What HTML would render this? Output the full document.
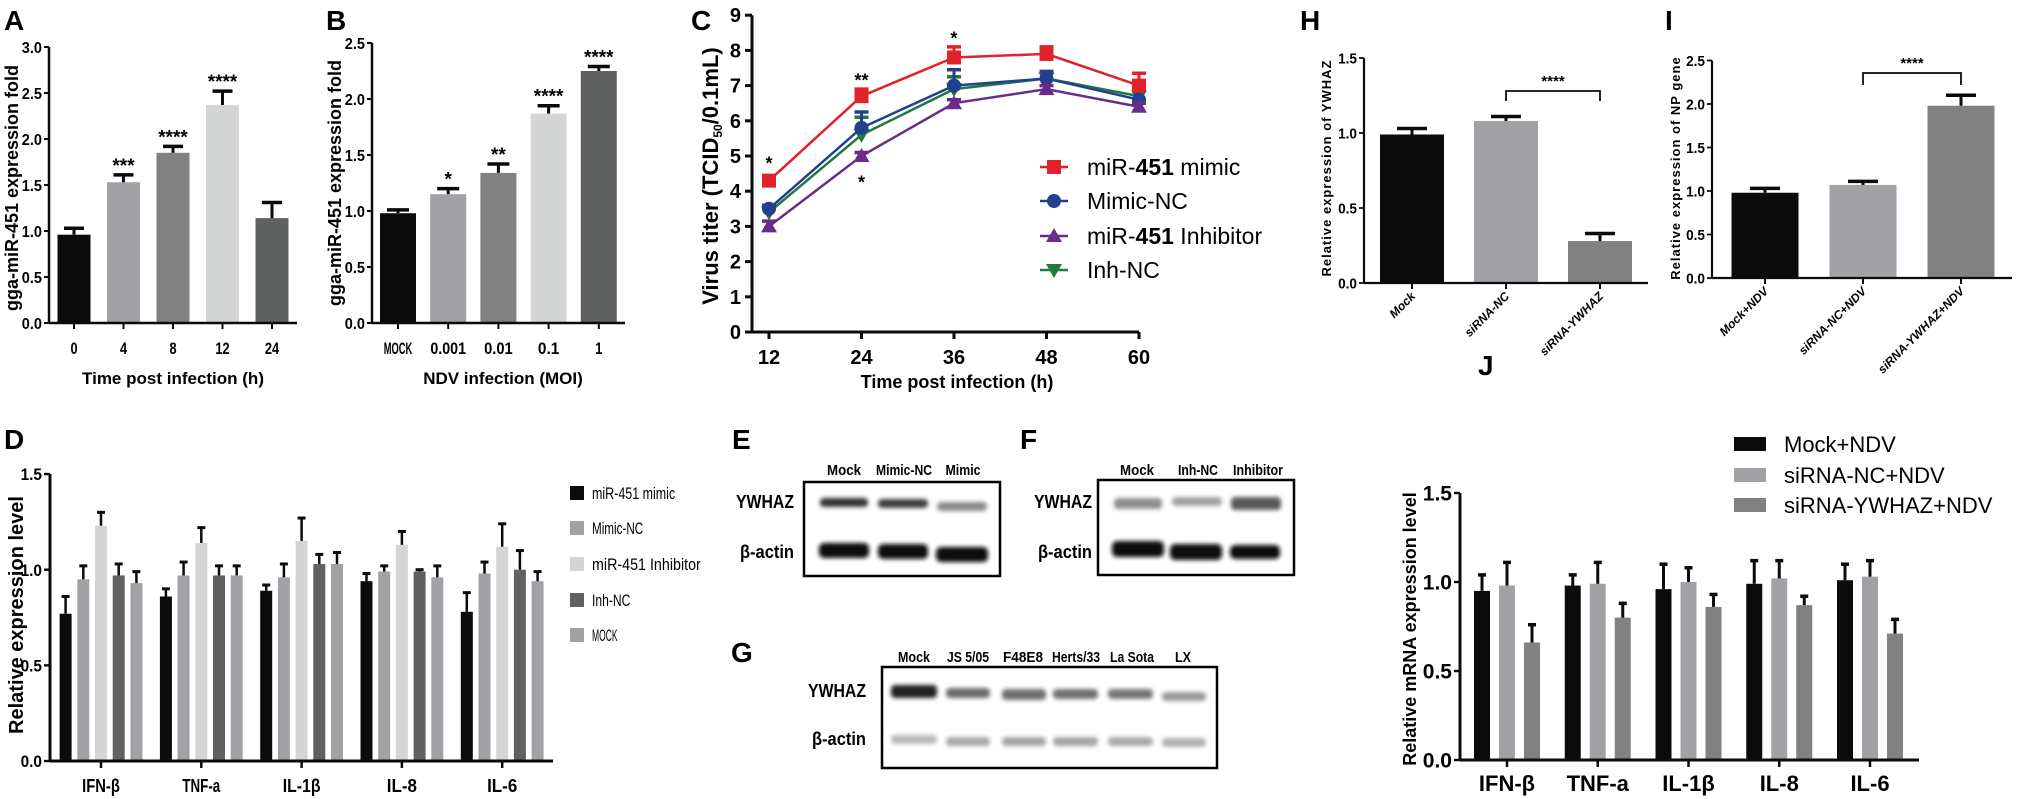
<!DOCTYPE html>
<html><head><meta charset="utf-8">
<style>
html,body{margin:0;padding:0;background:#fff;}
svg{display:block;font-family:"Liberation Sans",Arial,sans-serif;}
.nar{font-family:"Liberation Sans Narrow","Liberation Sans",sans-serif;font-weight:bold;}
.b{font-weight:bold;}
.lt{font-family:"Liberation Sans",sans-serif;font-weight:bold;font-size:28px;}
</style></head>
<body>
<svg id="fig" width="2021" height="799" viewBox="0 0 2021 799" xmlns="http://www.w3.org/2000/svg">
<defs>
<filter id="blur" x="-20%" y="-50%" width="140%" height="200%"><feGaussianBlur stdDeviation="2.2"/></filter>
</defs>
<text class="lt" x="4" y="30">A</text>
<text class="lt" x="326" y="30">B</text>
<text class="lt" x="691" y="30">C</text>
<text class="lt" x="4" y="449">D</text>
<text class="lt" x="732" y="449">E</text>
<text class="lt" x="1020" y="449">F</text>
<text class="lt" x="731" y="662">G</text>
<text class="lt" x="1300" y="30">H</text>
<text class="lt" x="1665" y="30">I</text>
<text class="lt" x="1478" y="375">J</text>

<g>
<g class="nar" font-size="15" text-anchor="middle" lengthAdjust="spacingAndGlyphs">
<text x="844" y="475" textLength="34" lengthAdjust="spacingAndGlyphs">Mock</text>
<text x="904" y="475" textLength="56" lengthAdjust="spacingAndGlyphs">Mimic-NC</text>
<text x="963" y="475" textLength="35" lengthAdjust="spacingAndGlyphs">Mimic</text>
</g>
<text class="nar" font-size="18" x="794" y="508" text-anchor="end" textLength="58" lengthAdjust="spacingAndGlyphs">YWHAZ</text>
<text class="nar" font-size="18" x="794" y="558" text-anchor="end" textLength="54" lengthAdjust="spacingAndGlyphs">β-actin</text>
<rect x="804" y="482" width="196" height="94" fill="#fff" stroke="#000" stroke-width="2.5"/>
<g filter="url(#blur)">
<rect x="820" y="498" width="48" height="9" rx="4" fill="#333"/>
<rect x="878" y="499" width="50" height="9" rx="4" fill="#3c3c3c"/>
<rect x="937" y="502" width="50" height="9" rx="4" fill="#8a8a8a"/>
<rect x="819" y="543" width="50" height="15" rx="5" fill="#080808"/>
<rect x="878" y="544" width="50" height="15" rx="5" fill="#0c0c0c"/>
<rect x="936" y="547" width="52" height="15" rx="5" fill="#0a0a0a"/>
</g>
</g>

<g>
<g class="nar" font-size="15" text-anchor="middle">
<text x="1137" y="475" textLength="34" lengthAdjust="spacingAndGlyphs">Mock</text>
<text x="1198" y="475" textLength="40" lengthAdjust="spacingAndGlyphs">Inh-NC</text>
<text x="1258" y="475" textLength="50" lengthAdjust="spacingAndGlyphs">Inhibitor</text>
</g>
<text class="nar" font-size="18" x="1092" y="508" text-anchor="end" textLength="58" lengthAdjust="spacingAndGlyphs">YWHAZ</text>
<text class="nar" font-size="18" x="1092" y="558" text-anchor="end" textLength="54" lengthAdjust="spacingAndGlyphs">β-actin</text>
<rect x="1098" y="480" width="196" height="95" fill="#fff" stroke="#000" stroke-width="2.5"/>
<g filter="url(#blur)">
<rect x="1114" y="498" width="48" height="11" rx="4" fill="#8e8e8e"/>
<rect x="1172" y="497" width="50" height="9" rx="4" fill="#a2a2a2"/>
<rect x="1231" y="497" width="50" height="13" rx="4" fill="#5a5a5a"/>
<rect x="1112" y="541" width="52" height="16" rx="5" fill="#080808"/>
<rect x="1170" y="544" width="52" height="16" rx="5" fill="#0a0a0a"/>
<rect x="1230" y="545" width="50" height="14" rx="5" fill="#0c0c0c"/>
</g>
</g>

<g>
<g class="nar" font-size="15" text-anchor="middle">
<text x="914" y="662" textLength="32" lengthAdjust="spacingAndGlyphs">Mock</text>
<text x="968" y="662" textLength="42" lengthAdjust="spacingAndGlyphs">JS 5/05</text>
<text x="1023" y="662" textLength="40" lengthAdjust="spacingAndGlyphs">F48E8</text>
<text x="1076" y="662" textLength="48" lengthAdjust="spacingAndGlyphs">Herts/33</text>
<text x="1132" y="662" textLength="44" lengthAdjust="spacingAndGlyphs">La Sota</text>
<text x="1183" y="662" textLength="16" lengthAdjust="spacingAndGlyphs">LX</text>
</g>
<text class="nar" font-size="18" x="866" y="697" text-anchor="end" textLength="58" lengthAdjust="spacingAndGlyphs">YWHAZ</text>
<text class="nar" font-size="18" x="866" y="745" text-anchor="end" textLength="54" lengthAdjust="spacingAndGlyphs">β-actin</text>
<rect x="882" y="667" width="335" height="101" fill="#fff" stroke="#000" stroke-width="2.5"/>
<g filter="url(#blur)">
<rect x="891" y="685" width="46" height="13" rx="4" fill="#222"/>
<rect x="946" y="688" width="44" height="10" rx="4" fill="#6a6a6a"/>
<rect x="1002" y="689" width="44" height="11" rx="4" fill="#6e6e6e"/>
<rect x="1053" y="689" width="45" height="10" rx="4" fill="#707070"/>
<rect x="1108" y="689" width="45" height="10" rx="4" fill="#767676"/>
<rect x="1162" y="692" width="44" height="9" rx="4" fill="#9a9a9a"/>
<rect x="891" y="735" width="46" height="9" rx="4" fill="#b8b8b8"/>
<rect x="946" y="737" width="44" height="9" rx="4" fill="#a8a8a8"/>
<rect x="1002" y="737" width="44" height="9" rx="4" fill="#a4a4a4"/>
<rect x="1053" y="737" width="45" height="9" rx="4" fill="#a4a4a4"/>
<rect x="1108" y="737" width="45" height="9" rx="4" fill="#a8a8a8"/>
<rect x="1162" y="738" width="44" height="9" rx="4" fill="#b0b0b0"/>
</g>
</g>
</svg>

<script>
// ===== Panel A data =====
const aCats = ["0","4","8","12","24"];
const aVals = [0.96,1.53,1.85,2.37,1.14];
const aErrs = [0.07,0.08,0.07,0.15,0.17];
const aStars = ["","***","****","****",""];
const aTicks = ["0.0","0.5","1.0","1.5","2.0","2.5","3.0"];
// ===== Panel B data =====
const bCats = ["MOCK","0.001","0.01","0.1","1"];
const bVals = [0.98,1.15,1.34,1.87,2.25];
const bErrs = [0.03,0.05,0.08,0.07,0.04];
const bStars = ["","*","**","****","****"];
const bTicks = ["0.0","0.5","1.0","1.5","2.0","2.5"];
// ===== Panel C data =====
const cTimes = [12,24,36,48,60];
const cTicksY = [0,1,2,3,4,5,6,7,8,9];
const cMimic = [4.3,6.7,7.8,7.9,7.0];
const cMimicErr = [0.05,0.2,0.3,0.2,0.35];
const cMimicNC = [3.5,5.8,7.0,7.2,6.6];
const cMimicNCErr = [0.1,0.45,0.45,0.2,0.3];
const cInhib = [3.0,5.0,6.5,6.9,6.4];
const cInhibErr = [0.15,0.1,0.1,0.1,0.1];
const cInhNC = [3.4,5.6,6.9,7.2,6.7];
const cInhNCErr = [0.1,0.5,0.35,0.2,0.3];
// ===== Panel D data =====
const dCats = ["IFN-β","TNF-a","IL-1β","IL-8","IL-6"];
const dSeriesNames = ["miR-451 mimic","Mimic-NC","miR-451 Inhibitor","Inh-NC","MOCK"];
const dMimic = [0.77,0.86,0.89,0.94,0.78];
const dMimicErr = [0.09,0.04,0.03,0.04,0.10];
const dMimicNC = [0.95,0.97,0.96,0.99,0.98];
const dMimicNCErr = [0.07,0.07,0.07,0.03,0.06];
const dInhib = [1.23,1.14,1.15,1.13,1.12];
const dInhibErr = [0.07,0.08,0.12,0.07,0.12];
const dInhNC = [0.97,0.97,1.03,0.99,1.00];
const dInhNCErr = [0.06,0.05,0.05,0.01,0.10];
const dMock = [0.93,0.97,1.03,0.96,0.94];
const dMockErr = [0.06,0.05,0.06,0.06,0.05];
const dTicks = ["0.0","0.5","1.0","1.5"];
// ===== Panel H data =====
const hCats = ["Mock","siRNA-NC","siRNA-YWHAZ"];
const hVals = [0.99,1.08,0.28];
const hErrs = [0.04,0.03,0.05];
const hTicks = ["0.0","0.5","1.0","1.5"];
// ===== Panel I data =====
const iCats = ["Mock+NDV","siRNA-NC+NDV","siRNA-YWHAZ+NDV"];
const iVals = [0.98,1.07,1.98];
const iErrs = [0.05,0.04,0.12];
const iTicks = ["0.0","0.5","1.0","1.5","2.0","2.5"];
// ===== Panel J data =====
const jCats = ["IFN-β","TNF-a","IL-1β","IL-8","IL-6"];
const jSeriesNames = ["Mock+NDV","siRNA-NC+NDV","siRNA-YWHAZ+NDV"];
const jMock = [0.95,0.98,0.96,0.99,1.01];
const jMockErr = [0.09,0.06,0.14,0.13,0.09];
const jNC = [0.98,0.99,1.00,1.02,1.03];
const jNCErr = [0.13,0.12,0.08,0.10,0.09];
const jYW = [0.66,0.80,0.86,0.87,0.71];
const jYWErr = [0.10,0.08,0.07,0.05,0.08];
const jTicks = ["0.0","0.5","1.0","1.5"];

const NS = "http://www.w3.org/2000/svg";
const svg = document.getElementById("fig");
function el(tag, attrs, parent, txt){
  const e = document.createElementNS(NS, tag);
  for (const k in attrs) e.setAttribute(k, attrs[k]);
  if (txt !== undefined) e.textContent = txt;
  (parent || svg).appendChild(e);
  return e;
}
function nm(e, n){
  
  
  return e;
}
function narrow(e, txt, fs, k){
  if (e.getAttribute('class') === 'nar') {
    e.setAttribute('textLength', (txt.length * fs * (k || 0.4)).toFixed(1));
    e.setAttribute('lengthAdjust', 'spacingAndGlyphs');
  }
}
const K = "#0b0b0b";

function yAxis(g, ax, zero, top, unit, ticks, cls, fs, lw, tickLen, labelGap){
  const a = el("line",{x1:ax,y1:zero,x2:ax,y2:top,stroke:K,"stroke-width":lw},g);
  nm(a,'y-axis-line');
  ticks.forEach(t=>{
    const y = zero - parseFloat(t)*unit;
    const tk = el("line",{x1:ax-tickLen,y1:y,x2:ax,y2:y,stroke:K,"stroke-width":lw*0.8},g);
    nm(tk,'y-tick');
    const lb = el("text",{x:ax-labelGap,y:y+fs*0.36,"text-anchor":"end","font-size":fs,"class":cls},g,t);
    nm(lb,'y-tick-label');
    narrow(lb,t,fs,0.42);
  });
}
function errBar(g, cx, yTop, yErr, capW, lw){
  const l = el("line",{x1:cx,y1:yTop,x2:cx,y2:yErr,stroke:K,"stroke-width":lw},g);
  nm(l,'error-bar');
  const c = el("line",{x1:cx-capW/2,y1:yErr,x2:cx+capW/2,y2:yErr,stroke:K,"stroke-width":lw+0.5},g);
  nm(c,'error-cap');
}

function simpleBars(p){
  const g = el("g",{},svg); nm(g, p.name);
  p.vals.forEach((v,i)=>{
    const cx = p.c0 + i*p.step;
    const y = p.zero - v*p.unit;
    const r = el("rect",{x:cx-p.bw/2,y:y,width:p.bw,height:p.zero-y,fill:p.colors[i]},g);
    nm(r,'bar-'+p.cats[i].toLowerCase().replace(/[^a-z0-9]+/g,'-'));
    const ye = p.zero - (v+p.errs[i])*p.unit;
    errBar(g,cx,y,ye,p.capW,p.elw);
    if (p.stars && p.stars[i]) {
      const s = el("text",{x:cx,y:ye-3,"text-anchor":"middle","font-size":p.starFs,"class":"b"},g,p.stars[i]);
      nm(s,'significance-stars');
    }
    const tk = el("line",{x1:cx,y1:p.zero,x2:cx,y2:p.zero+6,stroke:K,"stroke-width":2},g);
    nm(tk,'x-tick');
    if (p.rot) {
      const t = el("text",{x:cx+4,y:p.zero+14,"text-anchor":"end","font-size":p.xfs,"font-weight":"bold","font-style":"italic",
        transform:`rotate(-45 ${cx+4} ${p.zero+14})`},g,p.cats[i]);
      nm(t,'x-tick-label');
    } else {
      const t = el("text",{x:cx,y:p.xlabY,"text-anchor":"middle","font-size":p.xfs,"class":"nar"},g,p.cats[i]);
      nm(t,'x-tick-label');
      narrow(t,p.cats[i],p.xfs,0.42);
    }
  });
  const xa = el("line",{x1:p.ax,y1:p.zero,x2:p.axEnd,y2:p.zero,stroke:K,"stroke-width":p.alw},g);
  nm(xa,'x-axis-line');
  yAxis(g,p.ax,p.zero,p.zero-p.ymax*p.unit,p.unit,p.ticks,"nar",p.yfs,p.alw,5,7);
  if (p.xtitle){
    const t = el("text",{x:p.xtX,y:p.xtY,"text-anchor":"middle","font-size":p.xtFs,"class":"b"},g,p.xtitle);
    nm(t,'x-axis-title');
  }
  const yt = el("text",{x:p.ytX,y:p.ytY,"text-anchor":"middle","font-size":p.ytFs,"class":"b",
      transform:`rotate(-90 ${p.ytX} ${p.ytY})`, "letter-spacing":p.ytLs||0},g,p.ytitle);
  nm(yt,'y-axis-title');
  return g;
}
const greys5 = [K,"#a2a1a6","#818181","#d4d5d5","#606262"];

simpleBars({name:'chart-a',cats:aCats,vals:aVals,errs:aErrs,stars:aStars,ticks:aTicks,colors:greys5,
  ax:49,zero:323,unit:92,ymax:3.0,c0:74,step:49.5,bw:33,axEnd:297,capW:20,elw:3,starFs:19,
  xfs:17,xlabY:354,yfs:16,alw:2.5,xtitle:"Time post infection (h)",xtX:173,xtY:384,xtFs:17,
  ytitle:"gga-miR-451 expression fold",ytX:18,ytY:188,ytFs:18});
simpleBars({name:'chart-b',cats:bCats,vals:bVals,errs:bErrs,stars:bStars,ticks:bTicks,colors:greys5,
  ax:372,zero:323,unit:112,ymax:2.5,c0:398,step:50.2,bw:36,axEnd:625,capW:22,elw:3,starFs:19,
  xfs:17,xlabY:354,yfs:16,alw:2.5,xtitle:"NDV infection (MOI)",xtX:503,xtY:384,xtFs:17,
  ytitle:"gga-miR-451 expression fold",ytX:341,ytY:183,ytFs:18});
const gH = simpleBars({name:'chart-h',cats:hCats,vals:hVals,errs:hErrs,ticks:hTicks,colors:[K,"#a2a1a6","#818181"],
  ax:1364,zero:283,unit:150,ymax:1.5,c0:1412,step:94,bw:64,axEnd:1648,capW:30,elw:3,
  rot:true,xfs:12,yfs:15,alw:2.2,ytitle:"Relative expression of YWHAZ",ytX:1331,ytY:168,ytFs:13,ytLs:1});
const gI = simpleBars({name:'chart-i',cats:iCats,vals:iVals,errs:iErrs,ticks:iTicks,colors:[K,"#a2a1a6","#818181"],
  ax:1712,zero:278,unit:87,ymax:2.5,c0:1765,step:98,bw:67,axEnd:2012,capW:30,elw:3,
  rot:true,xfs:12,yfs:15,alw:2.2,ytitle:"Relative expression of NP gene",ytX:1680,ytY:168,ytFs:13,ytLs:1});

function bracket(g,x1,x2,y,drop,label){
  const p = el("path",{d:`M${x1} ${y+drop} V${y} H${x2} V${y+drop}`,fill:"none",stroke:K,"stroke-width":1.8},g);
  nm(p,'significance-bracket');
  const t = el("text",{x:(x1+x2)/2,y:y-5,"text-anchor":"middle","font-size":15,"class":"b"},g,label);
  nm(t,'significance-stars');
}
bracket(gH,1506,1600,91,10,"****");
bracket(gI,1863,1961,73,12,"****");

(function(){
  const g = el("g",{},svg); nm(g,'chart-c');
  const ax=752, zero=332, unit=35.2;
  const x = t => 769 + (t-12)*(92.5/12);
  const y = v => zero - v*unit;
  const series = [
    {name:"mimic",vals:cMimic,errs:cMimicErr,color:"#e3212b",mk:"square"},
    {name:"mimic-nc",vals:cMimicNC,errs:cMimicNCErr,color:"#23408f",mk:"circle"},
    {name:"inhibitor",vals:cInhib,errs:cInhibErr,color:"#6a2d87",mk:"tri"},
    {name:"inh-nc",vals:cInhNC,errs:cInhNCErr,color:"#1e7a3d",mk:"tridown"}
  ];
  function marker(par,cx,cy,type,color,n){
    let m;
    if(type==="square") m = el("rect",{x:cx-7,y:cy-7,width:14,height:14,fill:color},par);
    else if(type==="circle") m = el("circle",{cx:cx,cy:cy,r:7,fill:color},par);
    else if(type==="tri") m = el("path",{d:`M${cx} ${cy-8} L${cx+8} ${cy+6} L${cx-8} ${cy+6}Z`,fill:color},par);
    else m = el("path",{d:`M${cx} ${cy+8} L${cx+8} ${cy-6} L${cx-8} ${cy-6}Z`,fill:color},par);
    nm(m,n);
  }
  [3,1,2,0].forEach(si=>{
    const s = series[si];
    const sg = el("g",{},g); nm(sg,'series-'+s.name);
    const pts = s.vals.map((v,i)=>x(cTimes[i])+","+y(v)).join(" ");
    const pl = el("polyline",{points:pts,fill:"none",stroke:s.color,"stroke-width":2.5},sg);
    nm(pl,'line-'+s.name);
    s.vals.forEach((v,i)=>{
      const cx=x(cTimes[i]);
      const l = el("line",{x1:cx,y1:y(v),x2:cx,y2:y(v+s.errs[i]),stroke:s.color,"stroke-width":3},sg);
      nm(l,'error-bar');
      const c = el("line",{x1:cx-7,y1:y(v+s.errs[i]),x2:cx+7,y2:y(v+s.errs[i]),stroke:s.color,"stroke-width":3.5},sg);
      nm(c,'error-cap');
      marker(sg,cx,y(v),s.mk,s.color,'point-'+s.name);
    });
  });
  const xa = el("line",{x1:ax,y1:zero,x2:x(60),y2:zero,stroke:K,"stroke-width":3},g); nm(xa,'x-axis-line');
  const ya = el("line",{x1:ax,y1:zero,x2:ax,y2:y(9),stroke:K,"stroke-width":3},g); nm(ya,'y-axis-line');
  cTicksY.forEach(v=>{
    const tk = el("line",{x1:ax-7,y1:y(v),x2:ax,y2:y(v),stroke:K,"stroke-width":3},g); nm(tk,'y-tick');
    const lb = el("text",{x:ax-11,y:y(v)+7,"text-anchor":"end","font-size":20,"class":"b"},g,String(v)); nm(lb,'y-tick-label');
  });
  cTimes.forEach(t=>{
    const tk = el("line",{x1:x(t),y1:zero,x2:x(t),y2:zero+7,stroke:K,"stroke-width":3},g); nm(tk,'x-tick');
    const lb = el("text",{x:x(t),y:364,"text-anchor":"middle","font-size":20,"class":"b"},g,String(t)); nm(lb,'x-tick-label');
  });
  const xt = el("text",{x:957,y:388,"text-anchor":"middle","font-size":18,"class":"b"},g,"Time post infection (h)"); nm(xt,'x-axis-title');
  const yt = el("text",{x:718,y:176,"text-anchor":"middle","font-size":22,"class":"b",transform:"rotate(-90 718 176)"},g);
  nm(yt,'y-axis-title');
  yt.appendChild(document.createTextNode("Virus titer (TCID"));
  const sub = el("tspan",{"font-size":12,dy:4},yt,"50"); nm(sub,'y-title-subscript');
  const rest = el("tspan",{dy:-4},yt,"/0.1mL)"); nm(rest,'y-title-rest');
  const st = [["*",12,cMimic[0]+0.55],["**",24,cMimic[1]+0.5],["*",36,cMimic[2]+0.6],["*",24,cInhib[1]-0.7]];
  st.forEach(s=>{
    const t = el("text",{x:x(s[1]),y:y(s[2])+8,"text-anchor":"middle","font-size":18,"class":"b"},g,s[0]); nm(t,'significance-stars');
  });
  const lg = el("g",{},g); nm(lg,'legend-c');
  const labs = [["miR-","451"," mimic"],["Mimic-NC"],["miR-","451"," Inhibitor"],["Inh-NC"]];
  const ly = [167,201,236,270];
  series.forEach((s,i)=>{
    const e = el("g",{},lg); nm(e,'legend-entry');
    const l = el("line",{x1:1040,y1:ly[i],x2:1068,y2:ly[i],stroke:s.color,"stroke-width":2.5},e); nm(l,'legend-line');
    marker(e,1054,ly[i],s.mk,s.color,'legend-marker');
    const t = el("text",{x:1087,y:ly[i]+8,"font-size":23},e); nm(t,'legend-label');
    const L = labs[i];
    if (L.length===1) t.textContent = L[0];
    else {
      t.appendChild(document.createTextNode(L[0]));
      const b = el("tspan",{"font-weight":"bold"},t,L[1]); nm(b,'legend-label-bold');
      t.appendChild(document.createTextNode(L[2]));
    }
  });
})();

function grouped(p){
  const g = el("g",{},svg); nm(g,p.name);
  const n = p.series.length;
  p.cats.forEach((c,gi)=>{
    const gc = p.g0 + gi*p.gstep;
    p.series.forEach((s,si)=>{
      const cx = gc + (si-(n-1)/2)*p.off;
      const v = s.vals[gi];
      const y = p.zero - v*p.unit;
      const r = el("rect",{x:cx-p.bw/2,y:y,width:p.bw,height:p.zero-y,fill:s.color},g);
      nm(r,'bar-'+s.key);
      errBar(g,cx,y,p.zero-(v+s.errs[gi])*p.unit,p.capW,p.elw);
    });
    const tk = el("line",{x1:gc,y1:p.zero,x2:gc,y2:p.zero+7,stroke:K,"stroke-width":2.5},g); nm(tk,'x-tick');
    const lb = el("text",{x:gc,y:p.xlabY,"text-anchor":"middle","font-size":p.xfs,"class":p.xcls},g,c); nm(lb,'x-tick-label');
    narrow(lb,c,p.xfs,0.42);
  });
  const xa = el("line",{x1:p.ax,y1:p.zero,x2:p.axEnd,y2:p.zero,stroke:K,"stroke-width":3},g); nm(xa,'x-axis-line');
  yAxis(g,p.ax,p.zero,p.zero-p.ymax*p.unit,p.unit,p.ticks,p.ycls,p.yfs,3,6,8);
  const yt = el("text",{x:p.ytX,y:p.ytY,"text-anchor":"middle","font-size":p.ytFs,"class":"b",transform:`rotate(-90 ${p.ytX} ${p.ytY})`},g,p.ytitle);
  nm(yt,'y-axis-title');
  return g;
}
const gD = grouped({name:'chart-d',cats:dCats,ticks:dTicks,
  series:[{key:'mimic',vals:dMimic,errs:dMimicErr,color:K},{key:'mimic-nc',vals:dMimicNC,errs:dMimicNCErr,color:"#a2a1a6"},
    {key:'inhibitor',vals:dInhib,errs:dInhibErr,color:"#d4d5d5"},{key:'inh-nc',vals:dInhNC,errs:dInhNCErr,color:"#606262"},
    {key:'mock',vals:dMock,errs:dMockErr,color:"#a2a1a6"}],
  ax:50,zero:761,unit:191.3,ymax:1.5,g0:101,gstep:100.3,off:17.7,bw:12,capW:8,elw:2.5,axEnd:553,
  xlabY:792,xfs:18,xcls:"nar",yfs:17,ycls:"nar",ytitle:"Relative expression level",ytX:23,ytY:615,ytFs:20});
(function(){
  const lg = el("g",{},gD); nm(lg,'legend-d');
  const cols = [K,"#a2a1a6","#d4d5d5","#606262","#a2a1a6"];
  const ly = [493,528,564,600,635];
  dSeriesNames.forEach((n,i)=>{
    const e = el("g",{},lg); nm(e,'legend-entry');
    const r = el("rect",{x:570,y:ly[i]-7,width:14,height:14,fill:cols[i]},e); nm(r,'legend-swatch');
    const t = el("text",{x:592,y:ly[i]+6,"font-size":17,textLength:(n.length*6.4).toFixed(1),lengthAdjust:"spacingAndGlyphs"},e,n); nm(t,'legend-label');
  });
})();
const gJ = grouped({name:'chart-j',cats:jCats,ticks:jTicks,
  series:[{key:'mock-ndv',vals:jMock,errs:jMockErr,color:K},{key:'sirna-nc-ndv',vals:jNC,errs:jNCErr,color:"#a2a1a6"},
    {key:'sirna-ywhaz-ndv',vals:jYW,errs:jYWErr,color:"#818181"}],
  ax:1460,zero:760,unit:178,ymax:1.5,g0:1507,gstep:90.75,off:25,bw:16,capW:8,elw:3,axEnd:1919,
  xlabY:791,xfs:22,xcls:"b",yfs:21,ycls:"b",ytitle:"Relative mRNA expression level",ytX:1416,ytY:629,ytFs:18});
(function(){
  const lg = el("g",{},gJ); nm(lg,'legend-j');
  const cols = [K,"#a2a1a6","#818181"];
  const ly = [444,475,505];
  jSeriesNames.forEach((n,i)=>{
    const e = el("g",{},lg); nm(e,'legend-entry');
    const r = el("rect",{x:1734,y:ly[i]-7,width:32,height:14,fill:cols[i]},e); nm(r,'legend-swatch');
    const t = el("text",{x:1784,y:ly[i]+8,"font-size":22},e,n); nm(t,'legend-label');
  });
})();
</script>
</body></html>
